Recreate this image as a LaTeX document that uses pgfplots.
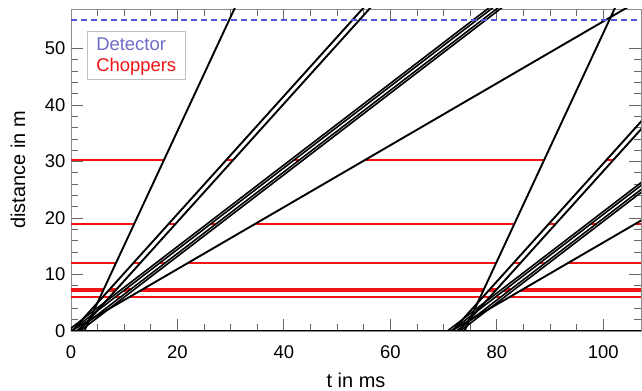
\documentclass[border=0pt]{standalone}
\usepackage{fontspec}
\setmainfont{Liberation Sans}
\usepackage{pgfplots}
\pgfplotsset{compat=1.18}
\usetikzlibrary{calc}
\definecolor{detline}{RGB}{85,85,220}
\definecolor{dettext}{RGB}{110,110,200}
\definecolor{chopred}{RGB}{240,20,20}
\begin{document}
\begin{tikzpicture}
\begin{axis}[
  scale only axis, width=570bp, height=322bp,
  xmin=0, xmax=107.1, ymin=0, ymax=57,
  xtick={0,20,...,100}, ytick={0,10,...,50},
  minor x tick num=3, minor y tick num=4,
  tick align=inside,
  major tick length=12bp, minor tick length=7bp,
  tick style={black!60, line width=0.8bp},
  axis line style={black!45, line width=0.8bp},
  ticklabel style={font=\fontsize{18.5}{22}\selectfont},
  /pgf/number format/assume math mode=true,
  xticklabel style={yshift=-11bp},
  yticklabel style={xshift=-2bp},
  xlabel={t in ms}, ylabel={distance in m},
  every axis x label/.style={at={(axis description cs:0.5,-0.152)}, anchor=center, font=\fontsize{20}{24}\selectfont},
  every axis y label/.style={at={(axis description cs:-0.093,0.5)}, anchor=center, rotate=90, font=\fontsize{20}{24}\selectfont},
  legend image code/.code={},
  legend style={at={(0.028,0.932)}, anchor=north west, draw=black!25, line width=0.6bp,
    font=\fontsize{18.5}{21}\selectfont, cells={anchor=west}, inner xsep=7bp, inner ysep=5bp, row sep=1.5bp},
  unbounded coords=jump,
  clip=true,
]
\addlegendimage{empty legend}
\addlegendentry{\textcolor{dettext}{Detector}}
\addlegendimage{empty legend}
\addlegendentry{\textcolor{chopred}{Choppers}}

% choppers (closed parts)
\addplot[chopred, line width=1.8bp, forget plot] coordinates {
 (0,6.0) (5.47,6.0) (5.6,nan) (5.94,6.0) (7.24,6.0) (7.5,nan) (8.31,6.0) (9.31,6.0) (9.5,nan)
 (10.95,6.0) (76.90,6.0) (77.0,nan) (77.37,6.0) (78.67,6.0) (79.0,nan) (79.74,6.0) (80.74,6.0) (81.0,nan) (82.38,6.0) (107.1,6.0)};
\addplot[chopred, line width=1.8bp, forget plot] coordinates {
 (0,7.05) (5.99,7.05) (6.2,nan) (6.95,7.05) (8.25,7.05) (8.5,nan) (9.76,7.05) (10.76,7.05) (11.0,nan)
 (12.86,7.05) (77.42,7.05) (77.6,nan) (78.38,7.05) (79.68,7.05) (80.0,nan) (81.19,7.05) (82.19,7.05) (82.5,nan) (84.29,7.05) (107.1,7.05)};
\addplot[chopred, line width=1.8bp, forget plot] coordinates {
 (0,7.45) (6.18,7.45) (6.5,nan) (7.33,7.45) (8.63,7.45) (9.0,nan) (10.32,7.45) (11.32,7.45) (11.5,nan)
 (13.59,7.45) (77.61,7.45) (77.8,nan) (78.76,7.45) (80.06,7.45) (80.5,nan) (81.75,7.45) (82.75,7.45) (83.0,nan) (85.02,7.45) (107.1,7.45)};
\addplot[chopred, line width=1.8bp, forget plot] coordinates {
 (0,12) (8.43,12) (9.0,nan) (11.68,12) (12.98,12) (13.5,nan) (16.62,12) (17.62,12) (18.0,nan)
 (21.90,12) (79.86,12) (80.5,nan) (83.11,12) (84.41,12) (85.0,nan) (88.05,12) (89.05,12) (89.5,nan) (93.33,12) (107.1,12)};
\addplot[chopred, line width=1.8bp, forget plot] coordinates {
 (0,19) (11.90,19) (12.5,nan) (18.38,19) (19.68,19) (20.0,nan) (26.32,19) (27.32,19) (28.0,nan)
 (34.67,19) (83.33,19) (84.0,nan) (89.81,19) (91.11,19) (92.0,nan) (97.75,19) (98.75,19) (99.0,nan) (106.10,19) (107.1,19)};
\addplot[chopred, line width=1.8bp, forget plot] coordinates {
 (0,30.2) (17.44,30.2) (18.0,nan) (29.10,30.2) (30.40,30.2) (31.0,nan) (41.83,30.2) (42.83,30.2) (43.5,nan)
 (55.11,30.2) (88.87,30.2) (89.5,nan) (100.53,30.2) (101.83,30.2)};

% neutron paths, frame 1
\addplot[black, line width=1.9bp, forget plot] coordinates {(2.5,0) (32.17,60)};
\addplot[black, line width=1.9bp, forget plot] coordinates {(0.2,0) (57.62,60)};
\addplot[black, line width=1.9bp, forget plot] coordinates {(1.5,0) (58.92,60)};
\addplot[black, line width=1.6bp, forget plot] coordinates {(-0.7,0) (82.40,60)};
\addplot[black, line width=1.6bp, forget plot] coordinates {(0.0,0) (83.10,60)};
\addplot[black, line width=1.6bp, forget plot] coordinates {(1.0,0) (84.10,60)};
\addplot[black, line width=1.6bp, forget plot] coordinates {(1.7,0) (84.80,60)};
\addplot[black, line width=1.9bp, forget plot] coordinates {(0.0,0) (109.49,60)};
% frame 2
\addplot[black, line width=1.9bp, forget plot] coordinates {(73.93,0) (103.60,60)};
\addplot[black, line width=1.9bp, forget plot] coordinates {(71.63,0) (129.05,60)};
\addplot[black, line width=1.9bp, forget plot] coordinates {(72.93,0) (130.35,60)};
\addplot[black, line width=1.6bp, forget plot] coordinates {(70.73,0) (153.83,60)};
\addplot[black, line width=1.6bp, forget plot] coordinates {(71.43,0) (154.53,60)};
\addplot[black, line width=1.6bp, forget plot] coordinates {(72.43,0) (155.53,60)};
\addplot[black, line width=1.6bp, forget plot] coordinates {(73.13,0) (156.23,60)};
\addplot[black, line width=1.9bp, forget plot] coordinates {(71.43,0) (180.92,60)};

% detector
\addplot[detline, line width=1.8bp, dash pattern=on 6bp off 4bp, forget plot] coordinates {(0,55) (107.1,55)};

\draw[black, line width=2.5bp] (rel axis cs:0,0) -- (rel axis cs:1,0);
\end{axis}
\pgfresetboundingbox
\path[use as bounding box] ($(current axis.south west)+(-71bp,-60bp)$) rectangle ($(current axis.north east)+(1bp,9bp)$);
\end{tikzpicture}
\end{document}
